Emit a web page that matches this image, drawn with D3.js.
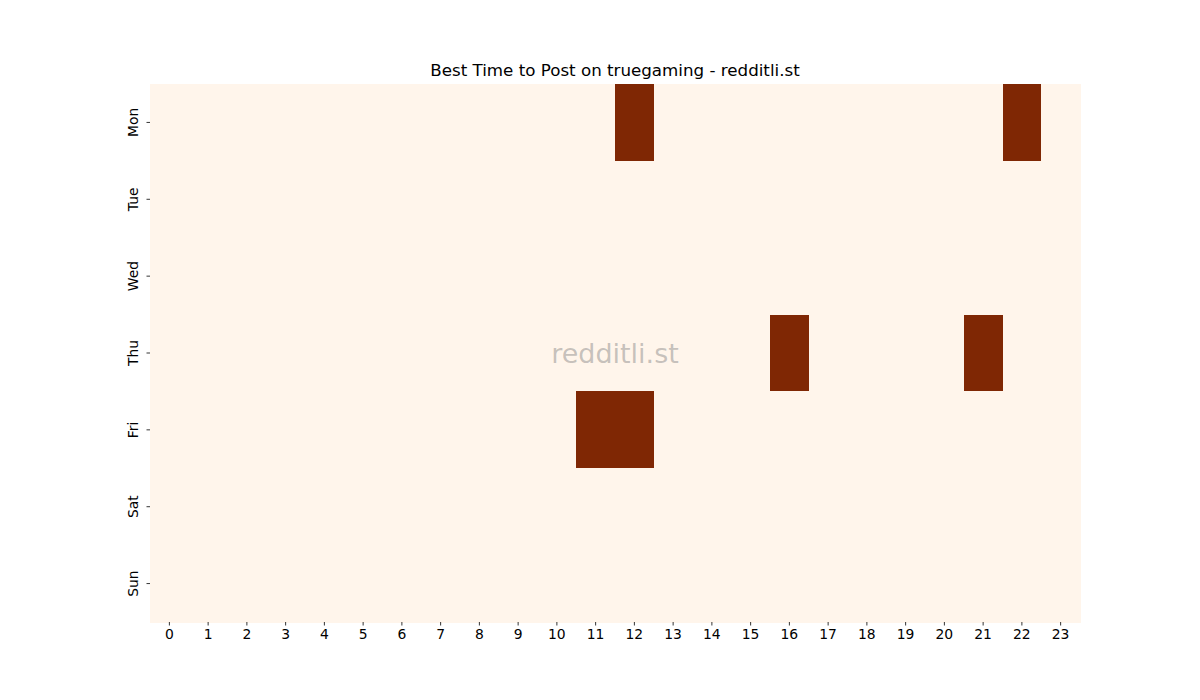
<!DOCTYPE html>
<html>
<head>
<meta charset="utf-8">
<script src="https://cdn.jsdelivr.net/npm/d3@7"></script>
<style>
  body { margin: 0; background: #fff; }
  text { font-family: "DejaVu Sans", sans-serif; }
</style>
</head>
<body>
<div id="chart"></div>
<script>
const days = ["Mon", "Tue", "Wed", "Thu", "Fri", "Sat", "Sun"];
const hours = d3.range(24).map(String);
// activity score per day (rows) and hour (columns)
const mon = [0,0,0,0,0,0,0,0,0,0,0,0,1,0,0,0,0,0,0,0,0,0,1,0];
const tue = [0,0,0,0,0,0,0,0,0,0,0,0,0,0,0,0,0,0,0,0,0,0,0,0];
const wed = [0,0,0,0,0,0,0,0,0,0,0,0,0,0,0,0,0,0,0,0,0,0,0,0];
const thu = [0,0,0,0,0,0,0,0,0,0,0,0,0,0,0,0,1,0,0,0,0,1,0,0];
const fri = [0,0,0,0,0,0,0,0,0,0,0,1,1,0,0,0,0,0,0,0,0,0,0,0];
const sat = [0,0,0,0,0,0,0,0,0,0,0,0,0,0,0,0,0,0,0,0,0,0,0,0];
const sun = [0,0,0,0,0,0,0,0,0,0,0,0,0,0,0,0,0,0,0,0,0,0,0,0];
const values = [mon, tue, wed, thu, fri, sat, sun];

const W = 1200, H = 700;
const margin = { top: 84, right: 120, bottom: 78, left: 150 };
const width = W - margin.left - margin.right;
const height = H - margin.top - margin.bottom;

const svg = d3.select("#chart").append("svg")
  .attr("width", W).attr("height", H);

const g = svg.append("g")
  .attr("transform", `translate(${margin.left},${margin.top})`);

const x = d3.scaleBand().domain(hours).range([0, width]);
const y = d3.scaleBand().domain(days).range([0, height]);
const color = d3.scaleLinear().domain([0, 1]).range(["#fff5eb", "#7f2704"]);

const cells = [];
values.forEach((row, i) => row.forEach((v, j) => cells.push({ day: days[i], hour: hours[j], v })));

g.selectAll("rect")
  .data(cells)
  .enter()
  .append("rect")
  .attr("x", d => x(d.hour))
  .attr("y", d => y(d.day))
  .attr("width", x.bandwidth() + 0.5)
  .attr("height", y.bandwidth() + 0.5)
  .attr("fill", d => color(d.v))
  .attr("shape-rendering", "crispEdges");

const xAxis = g.append("g")
  .attr("transform", `translate(0,${height})`)
  .call(d3.axisBottom(x).tickSize(3.5).tickPadding(3.5));
xAxis.select(".domain").remove();
xAxis.selectAll("text").attr("font-size", 13.9).attr("fill", "#000").attr("font-family", "DejaVu Sans");
xAxis.selectAll("line").attr("stroke", "#000").attr("stroke-width", 0.8);

const yAxis = g.append("g")
  .call(d3.axisLeft(y).tickSize(3.5).tickPadding(3.5));
yAxis.select(".domain").remove();
yAxis.selectAll("line").attr("stroke", "#000").attr("stroke-width", 0.8);
yAxis.selectAll("text")
  .attr("font-size", 13.9).attr("fill", "#000").attr("font-family", "DejaVu Sans")
  .attr("text-anchor", "middle")
  .attr("dy", null)
  .attr("x", -12.5)
  .attr("y", 0)
  .attr("transform", "rotate(-90,-12.5,0)")
  .attr("dominant-baseline", "auto");

svg.append("text")
  .attr("x", margin.left + width / 2)
  .attr("y", 76)
  .attr("text-anchor", "middle")
  .attr("font-size", 16.7)
  .attr("fill", "#000")
  .text("Best Time to Post on truegaming - redditli.st");

svg.append("text")
  .attr("x", margin.left + width / 2)
  .attr("y", margin.top + height / 2)
  .attr("text-anchor", "middle")
  .attr("dominant-baseline", "central")
  .attr("font-size", 27)
  .attr("fill", "#808080")
  .attr("fill-opacity", 0.45)
  .text("redditli.st");
</script>
</body>
</html>
